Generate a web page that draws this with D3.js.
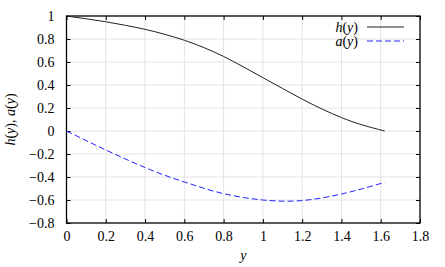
<!DOCTYPE html>
<html>
<head>
<meta charset="utf-8">
<script src="https://cdn.jsdelivr.net/npm/d3@7"></script>
<style>
  body { margin: 0; background: #fff; }
  svg text { font-family: "Liberation Serif", "DejaVu Serif", serif; }
</style>
</head>
<body>
<div id="chart"></div>
<script>
const W = 445, H = 267;
const margin = {top: 16, right: 25, bottom: 44, left: 66.5};
const FS = 14;

// values
let yVals = [0, 0.1, 0.2, 0.3, 0.4, 0.5, 0.6, 0.7, 0.8, 0.9, 1.0, 1.1, 1.2, 1.3, 1.4, 1.5, 1.62];
let hVals = [1, 0.976, 0.95, 0.919, 0.884, 0.841, 0.789, 0.725, 0.648, 0.558, 0.464, 0.37, 0.277, 0.192, 0.117, 0.056, 0];
let aVals = [0, -0.083, -0.165, -0.243, -0.318, -0.385, -0.443, -0.498, -0.545, -0.578, -0.6, -0.61, -0.605, -0.582, -0.548, -0.505, -0.447];
let xTicks = [0, 0.2, 0.4, 0.6, 0.8, 1, 1.2, 1.4, 1.6, 1.8];
let yTicks = [-0.8, -0.6, -0.4, -0.2, 0, 0.2, 0.4, 0.6, 0.8, 1];

let svg = d3.select("#chart")
  .append("svg")
    .attr("width", W)
    .attr("height", H);

let x = d3.scaleLinear().domain([0, 1.8]).range([margin.left, W - margin.right]);
let y = d3.scaleLinear().domain([-0.8, 1]).range([H - margin.bottom, margin.top]);

// grid
svg.append("g")
  .selectAll("line")
  .data(xTicks.slice(1, -1))
  .enter().append("line")
    .attr("x1", d => x(d)).attr("x2", d => x(d))
    .attr("y1", y(-0.8)).attr("y2", y(1))
    .attr("stroke", "#e3e3e3").attr("stroke-width", 1);
svg.append("g")
  .selectAll("line")
  .data(yTicks.slice(1, -1))
  .enter().append("line")
    .attr("y1", d => y(d)).attr("y2", d => y(d))
    .attr("x1", x(0)).attr("x2", x(1.8))
    .attr("stroke", "#e3e3e3").attr("stroke-width", 1);

// axes with inward ticks on all sides
function fmt(d) { return d3.format("")(+d.toFixed(1)); }
let axB = svg.append("g").attr("transform", "translate(0," + y(-0.8) + ")")
  .call(d3.axisBottom(x).tickValues(xTicks).tickSize(-4).tickPadding(8).tickFormat(fmt));
let axT = svg.append("g").attr("transform", "translate(0," + y(1) + ")")
  .call(d3.axisTop(x).tickValues(xTicks).tickSize(-4).tickFormat(""));
let axL = svg.append("g").attr("transform", "translate(" + x(0) + ",0)")
  .call(d3.axisLeft(y).tickValues(yTicks).tickSize(-4).tickPadding(12).tickFormat(fmt));
let axR = svg.append("g").attr("transform", "translate(" + x(1.8) + ",0)")
  .call(d3.axisRight(y).tickValues(yTicks).tickSize(-4).tickFormat(""));

[axB, axT, axL, axR].forEach(g => {
  g.attr("font-family", null);
  g.select(".domain").remove();
  g.selectAll(".tick line").attr("stroke", "#000").attr("stroke-width", 1);
  g.selectAll("text").attr("font-size", FS).attr("fill", "#000");
});
axL.selectAll("text").attr("dy", "0.33em");

// frame
svg.append("rect")
  .attr("x", x(0)).attr("y", y(1))
  .attr("width", x(1.8) - x(0)).attr("height", y(-0.8) - y(1))
  .attr("fill", "none").attr("stroke", "#000").attr("stroke-width", 1.3);

// curves
let hData = yVals.map((v, i) => [v, hVals[i]]);
let aData = yVals.map((v, i) => [v, aVals[i]]);
let line = d3.line().x(d => x(d[0])).y(d => y(d[1])).curve(d3.curveNatural);

svg.append("path").datum(hData)
  .attr("d", line).attr("fill", "none")
  .attr("stroke", "#222").attr("stroke-width", 1);
svg.append("path").datum(aData)
  .attr("d", line).attr("fill", "none")
  .attr("stroke", "#2222ff").attr("stroke-width", 1)
  .attr("stroke-dasharray", "6,3");

// legend
function fnLabel(sel, f) {
  sel.append("tspan").attr("font-style", "italic").text(f);
  sel.append("tspan").text("(");
  sel.append("tspan").attr("font-style", "italic").text("y");
  sel.append("tspan").text(")");
}
let legend = [{f: "h", color: "#222", dash: null, yy: 27}, {f: "a", color: "#2222ff", dash: "6,3", yy: 41}];
legend.forEach(l => {
  let t = svg.append("text").attr("x", 358).attr("y", l.yy).attr("dy", "0.33em")
    .attr("text-anchor", "end").attr("font-size", FS);
  fnLabel(t, l.f);
  svg.append("line").attr("x1", 367).attr("x2", 404).attr("y1", l.yy).attr("y2", l.yy)
    .attr("stroke", l.color).attr("stroke-width", 1)
    .attr("stroke-dasharray", l.dash);
});

// axis labels
svg.append("text").attr("x", (x(0) + x(1.8)) / 2).attr("y", 260)
  .attr("text-anchor", "middle").attr("font-size", FS)
  .attr("font-style", "italic").text("y");

let yl = svg.append("text")
  .attr("transform", "translate(15," + (y(1) + y(-0.8)) / 2 + ") rotate(-90)")
  .attr("text-anchor", "middle").attr("font-size", FS);
fnLabel(yl, "h");
yl.append("tspan").text(", ");
fnLabel(yl, "a");
</script>
</body>
</html>
